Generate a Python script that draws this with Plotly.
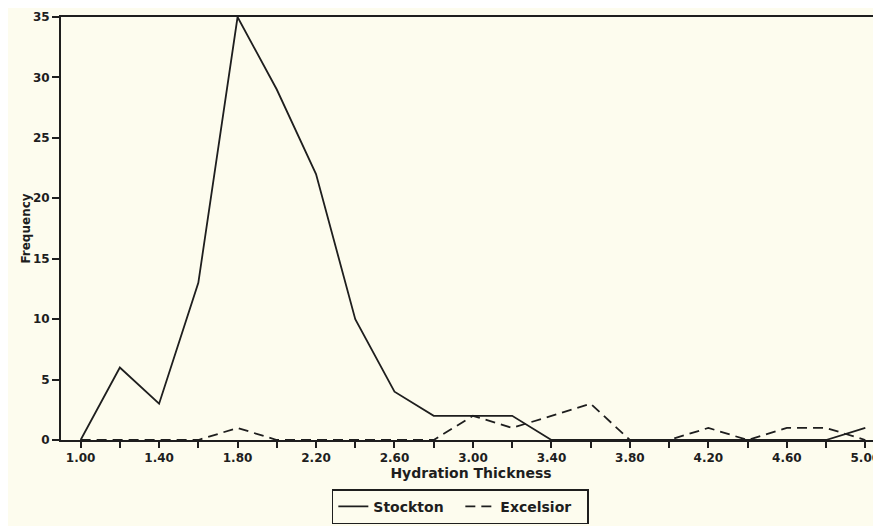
import plotly.graph_objects as go

thickness = [1.0, 1.2, 1.4, 1.6, 1.8, 2.0, 2.2, 2.4, 2.6, 2.8, 3.0, 3.2, 3.4,
             3.6, 3.8, 4.0, 4.2, 4.4, 4.6, 4.8, 5.0]
stockton = [0, 6, 3, 13, 35, 29, 22, 10, 4, 2, 2, 2, 0,
            0, 0, 0, 0, 0, 0, 0, 1]
excelsior = [0, 0, 0, 0, 1, 0, 0, 0, 0, 0, 2, 1, 2,
             3, 0, 0, 1, 0, 1, 1, 0]

bg = "#fdfcee"
ink = "#1e1e1e"
fam = "DejaVu Sans"

fig = go.Figure()
fig.add_trace(go.Scatter(x=thickness, y=stockton, mode="lines", name="Stockton",
                         line=dict(color=ink, width=1.8)))
fig.add_trace(go.Scatter(x=thickness, y=excelsior, mode="lines", name="Excelsior",
                         line=dict(color=ink, width=1.8, dash="10px,6px")))

fig.update_layout(
    width=873, height=518,
    margin=dict(l=53, r=0, t=9, b=86),
    paper_bgcolor=bg, plot_bgcolor=bg,
    font=dict(family=fam, size=12, color=ink, weight="bold"),
    showlegend=True,
    legend=dict(orientation="h", x=0.487, xanchor="center", y=-0.199, yanchor="bottom",
                bordercolor=ink, borderwidth=1.5, bgcolor=bg,
                font=dict(family=fam, size=14, color=ink, weight="bold"),
                itemwidth=30, entrywidth=82),
    xaxis=dict(range=[0.9, 5.08], tickmode="linear", tick0=1.0, dtick=0.4,
               tickformat=".2f", showgrid=False, zeroline=False,
               showline=True, linecolor=ink, linewidth=2, mirror=True,
               ticks="outside", ticklen=6, tickwidth=1.5, tickcolor=ink,
               minor=dict(dtick=0.2, tick0=1.0, ticks="outside", ticklen=6,
                          tickwidth=1.5, tickcolor=ink, showgrid=False),
               title=dict(text="Hydration Thickness", standoff=0,
                          font=dict(family=fam, size=14, color=ink, weight="bold")),
               tickfont=dict(family=fam, size=12, color=ink, weight="bold")),
    yaxis=dict(range=[0, 35], tickmode="linear", tick0=0, dtick=5,
               showgrid=False, zeroline=False,
               showline=True, linecolor=ink, linewidth=2,
               ticks="outside", ticklen=7, tickwidth=1.5, tickcolor=ink,
               title=dict(text="Frequency", standoff=0,
                          font=dict(family=fam, size=12, color=ink, weight="bold")),
               tickfont=dict(family=fam, size=12, color=ink, weight="bold")),
)

fig.write_html("out.html")
